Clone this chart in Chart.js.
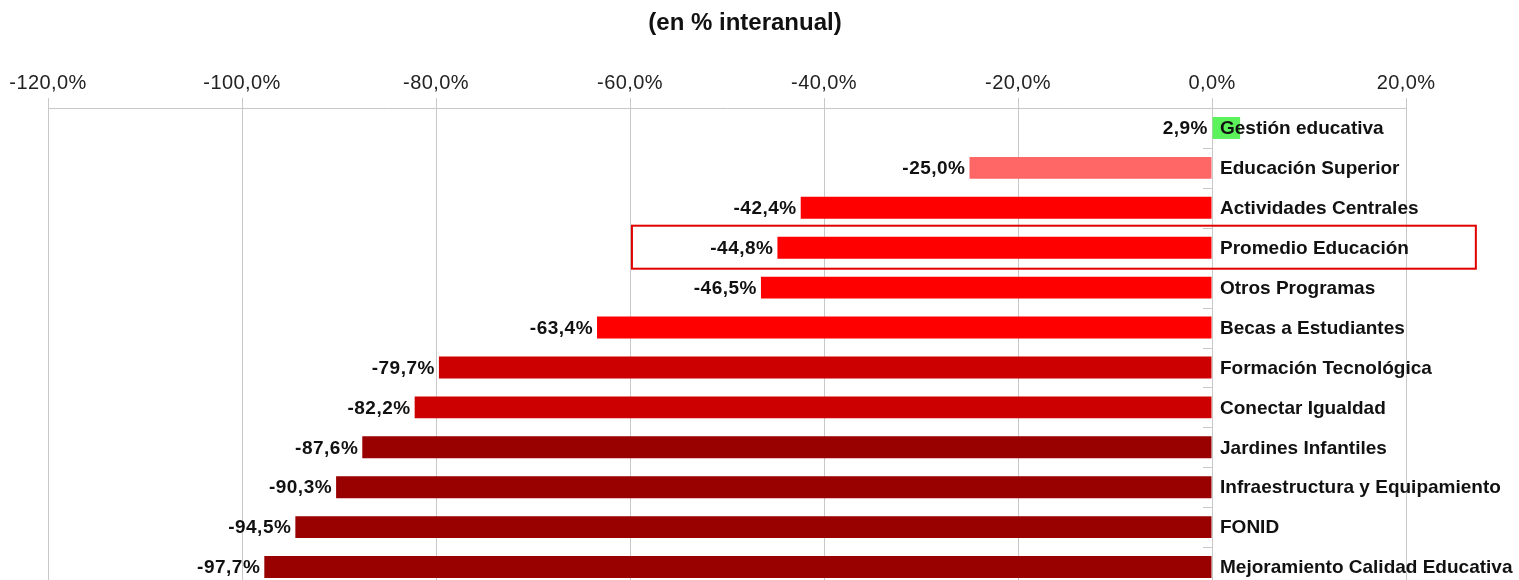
<!DOCTYPE html>
<html lang="es">
<head>
  <meta charset="UTF-8" />
  <title>(en % interanual)</title>
  <script src="https://cdn.jsdelivr.net/npm/chart.js"></script>
  <style>
    html, body {
      margin: 0;
      padding: 0;
      background: #fff;
      overflow: hidden;
      width: 1519px;
      height: 580px;
    }
    #chart-container {
      width: 1519px;
      height: 600px;
    }
  </style>
</head>
<body>
  <div id="chart-container">
    <canvas id="eduChart" width="1519" height="600"></canvas>
  </div>

  <script>
    const titleText = '(en % interanual)';
    const categories = [
      'Gestión educativa',
      'Educación Superior',
      'Actividades Centrales',
      'Promedio Educación',
      'Otros Programas',
      'Becas a Estudiantes',
      'Formación Tecnológica',
      'Conectar Igualdad',
      'Jardines Infantiles',
      'Infraestructura y Equipamiento',
      'FONID',
      'Mejoramiento Calidad Educativa'
    ];
    const values = [2.9, -25.0, -42.4, -44.8, -46.5, -63.4, -79.7, -82.2, -87.6, -90.3, -94.5, -97.7];
    const barColors = [
      '#5cf25c', '#ff6666', '#ff0000', '#ff0000', '#ff0000', '#ff0000',
      '#cc0000', '#cc0000', '#990000', '#990000', '#990000', '#990000'
    ];
    const xMin = -120, xMax = 20, xStep = 20;
    const highlightIndex = 3; // "Promedio Educación" is boxed

    const gridColor = '#c8c8c8';
    const textColor = '#111';
    const fontFamily = '"Liberation Sans", Arial, sans-serif';

    function fmt(v) {
      return v.toFixed(1).replace('.', ',') + '%';
    }

    const labelPlugin = {
      id: 'barLabels',
      beforeDraw(chart) {
        chart.ctx.letterSpacing = '0.4px';
      },
      afterDatasetsDraw(chart) {
        const { ctx, scales: { x, y } } = chart;
        const zero = x.getPixelForValue(0);
        ctx.save();

        // little category ticks on the zero line
        ctx.strokeStyle = gridColor;
        ctx.lineWidth = 1;
        for (let i = 1; i < categories.length; i++) {
          const yy = Math.round((y.getPixelForValue(i - 1) + y.getPixelForValue(i)) / 2) + 0.5;
          ctx.beginPath();
          ctx.moveTo(zero - 9, yy);
          ctx.lineTo(zero, yy);
          ctx.stroke();
        }

        // values and names
        ctx.fillStyle = textColor;
        ctx.textBaseline = 'middle';
        ctx.font = 'bold 19px ' + fontFamily;
        ctx.letterSpacing = '0.5px';
        values.forEach((v, i) => {
          const yy = y.getPixelForValue(i);
          ctx.textAlign = 'right';
          ctx.fillText(fmt(v), x.getPixelForValue(Math.min(v, 0)) - 4, yy + 1);
        });
        ctx.letterSpacing = '0px';
        categories.forEach((c, i) => {
          const yy = y.getPixelForValue(i);
          ctx.textAlign = 'left';
          ctx.fillText(c, zero + 8, yy + 1);
        });

        // highlight box
        const hy = y.getPixelForValue(highlightIndex);
        const left = x.getPixelForValue(-59.8);
        const right = x.getPixelForValue(27.2);
        ctx.strokeStyle = '#e00000';
        ctx.lineWidth = 2;
        ctx.strokeRect(left, hy - 22, right - left, 43);

        // title
        ctx.font = 'bold 24px ' + fontFamily;
        ctx.textAlign = 'center';
        ctx.fillText(titleText, 745, 23);
        ctx.restore();
      }
    };

    const ctx = document.getElementById('eduChart').getContext('2d');
    const eduChart = new Chart(ctx, {
      type: 'bar',
      data: {
        labels: categories,
        datasets: [{
          data: values,
          backgroundColor: barColors,
          borderWidth: 0,
          categoryPercentage: 1,
          barPercentage: 0.55
        }]
      },
      options: {
        indexAxis: 'y',
        responsive: false,
        animation: false,
        layout: {
          padding: { left: 48, right: 113, top: 40, bottom: 13 }
        },
        plugins: {
          legend: { display: false },
          tooltip: { enabled: false }
        },
        scales: {
          x: {
            position: 'top',
            min: xMin,
            max: xMax,
            afterFit(scale) { scale.height = 68; },
            ticks: {
              stepSize: xStep,
              padding: 3,
              color: '#222',
              font: { family: fontFamily, size: 20 },
              callback: v => fmt(v)
            },
            grid: { color: gridColor, tickLength: 10 },
            border: { color: gridColor }
          },
          y: {
            display: false
          }
        }
      },
      plugins: [labelPlugin]
    });
  </script>
</body>
</html>
